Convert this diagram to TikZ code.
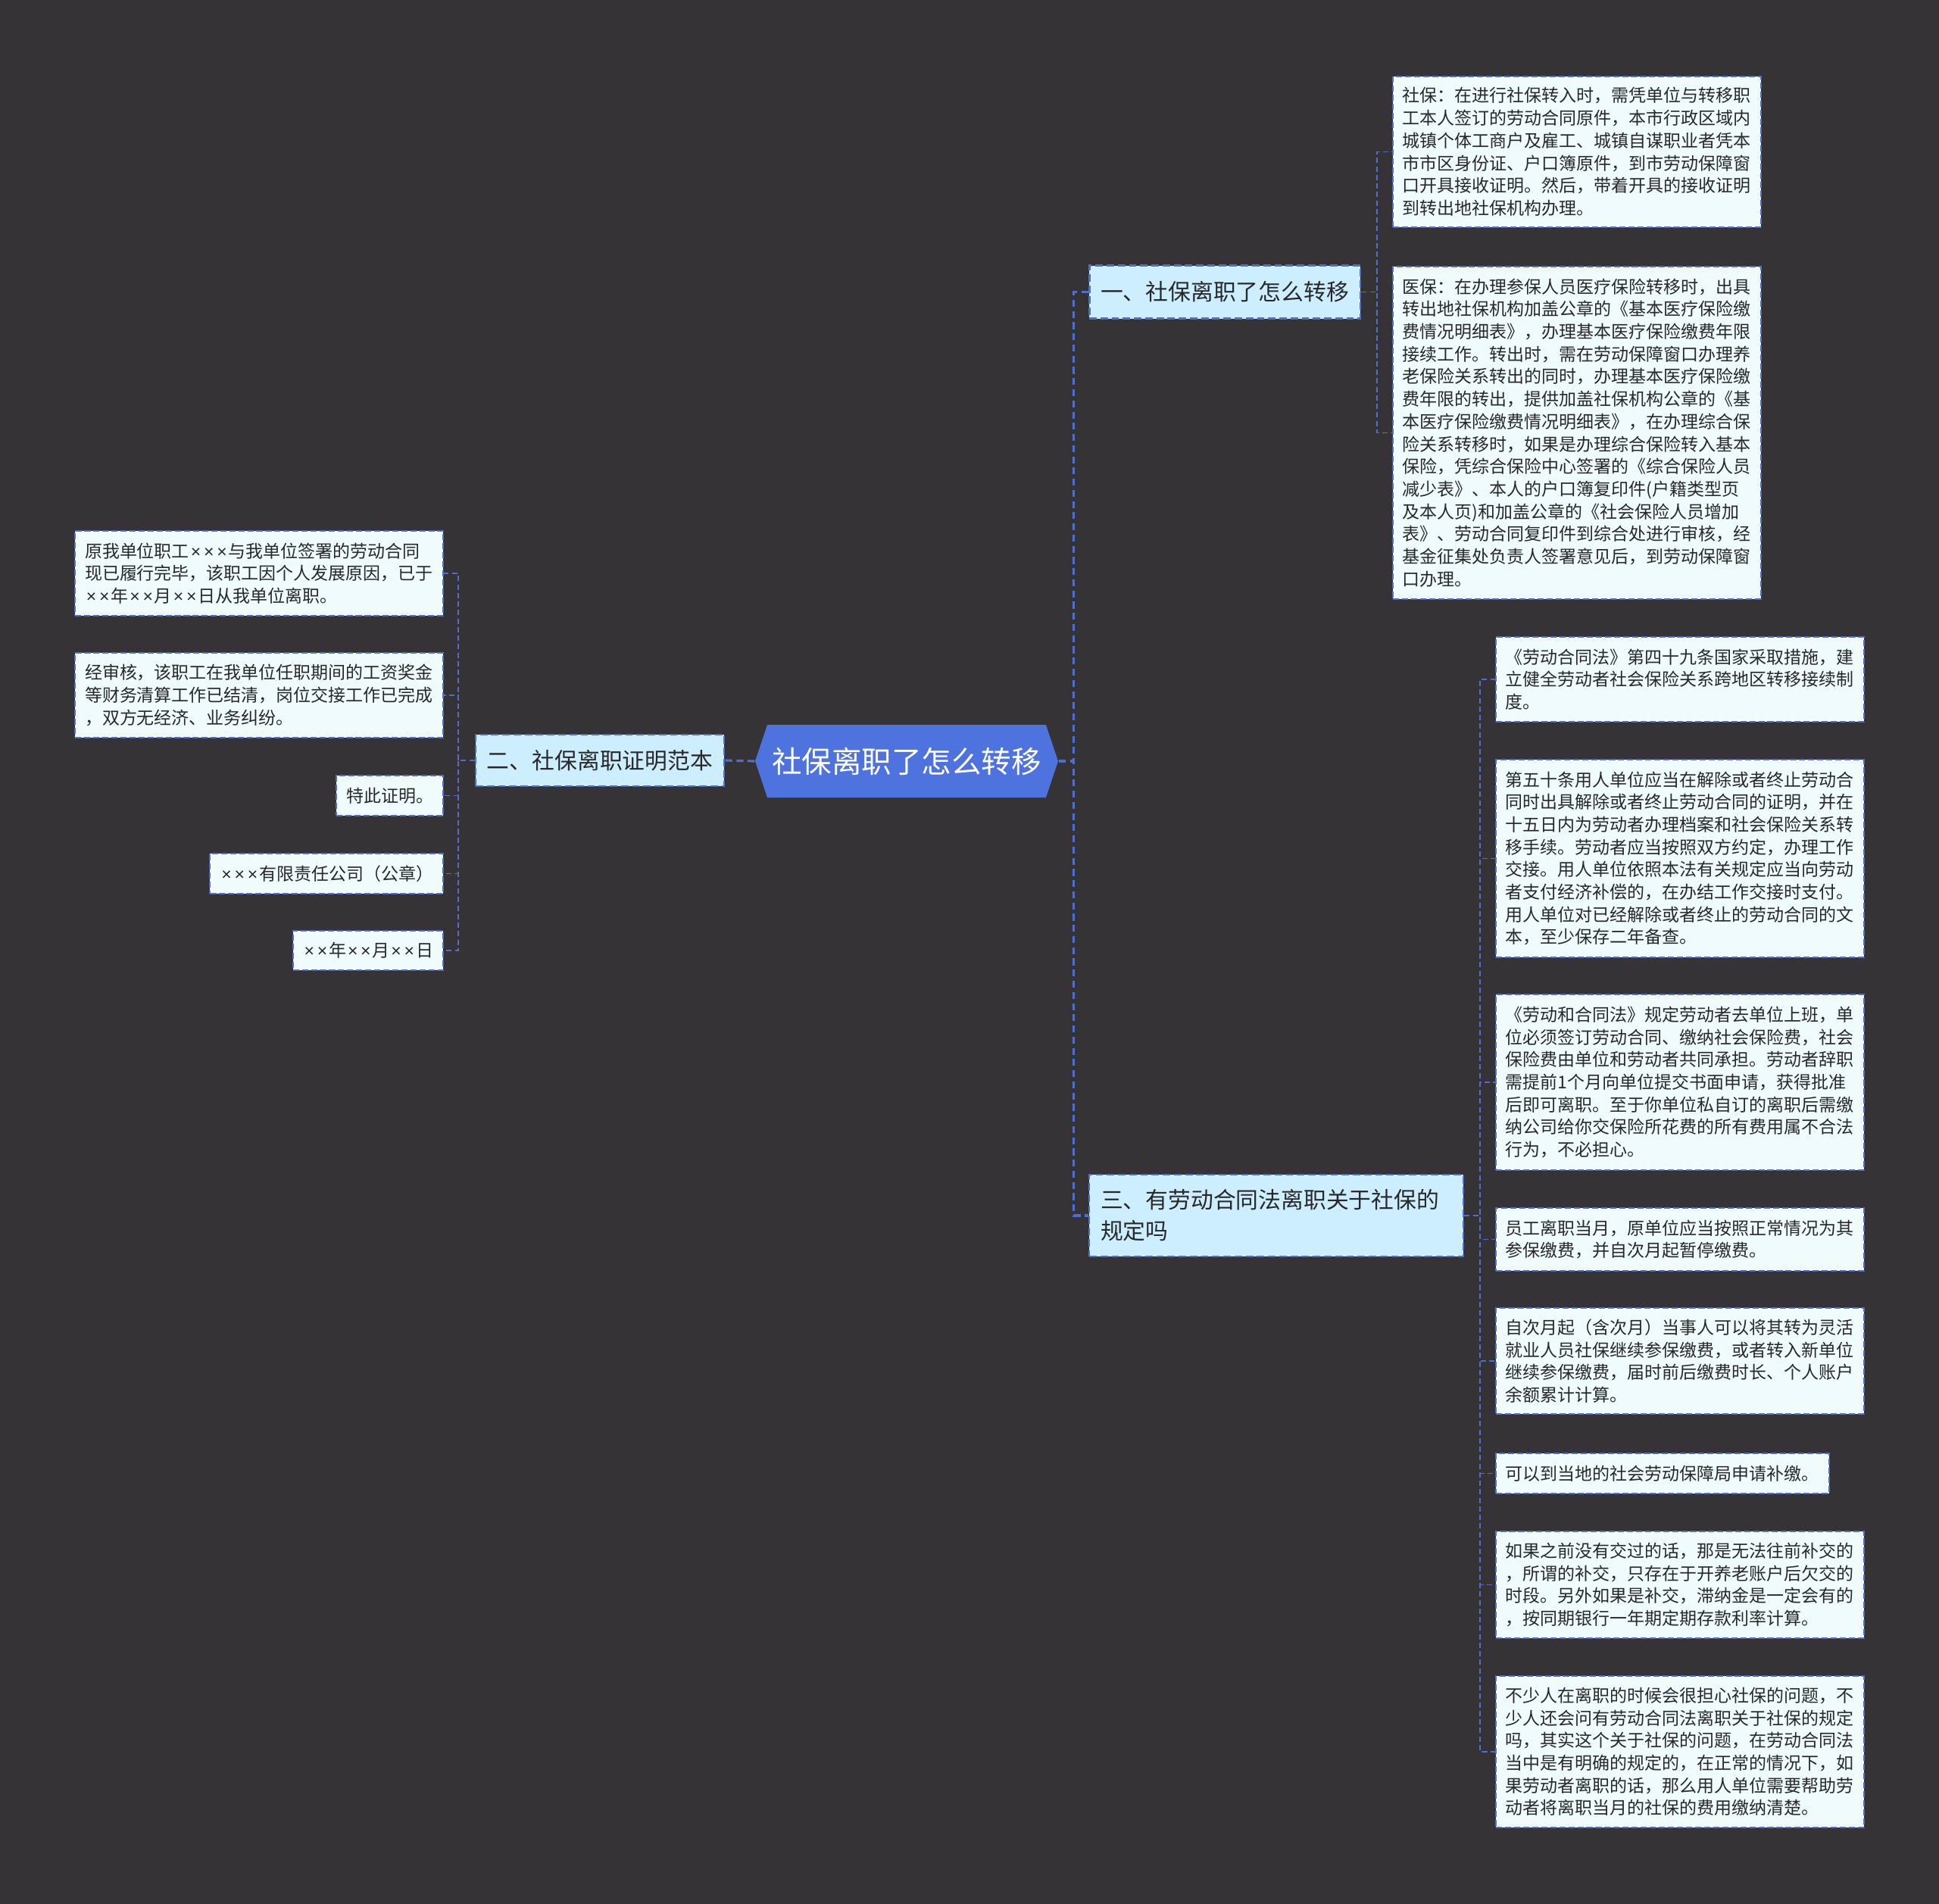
\documentclass[tikz,border=0pt]{standalone}
\usepackage{fontspec}
\setmainfont{Noto Sans CJK SC}
\newfontfamily\latinfont{Liberation Sans}
\definecolor{bgdark}{RGB}{53,51,53}
\definecolor{linkblue}{RGB}{80,110,205}
\definecolor{rootblue}{RGB}{79,115,222}
\definecolor{branchfill}{RGB}{204,238,255}
\definecolor{leaffill}{RGB}{240,251,253}
\definecolor{inkgray}{RGB}{40,40,40}
\usetikzlibrary{positioning,shapes.symbols}
\newcommand\timesmark{\makebox[0.75em]{\latinfont ×}}

\begin{document}
\begin{tikzpicture}[
  rootnode/.style={shape=signal, signal to=west and east, signal pointer angle=143, fill=rootblue, text=white, inner sep=0pt, minimum width=4.0cm, minimum height=0.96cm, font=\fontsize{11.24pt}{13pt}\selectfont},
  branch/.style={draw=linkblue, fill=branchfill, line width=0.8pt, dash pattern=on 2.8pt off 1.4pt, inner xsep=0.15cm, inner ysep=0pt, align=left, text=inkgray, font=\fontsize{8.48pt}{11.67pt}\selectfont},
  leafbase/.style={draw=linkblue, fill=leaffill, line width=0.55pt, dash pattern=on 2.3pt off 1.1pt, inner xsep=0.13cm, inner ysep=0pt, align=left, anchor=north west, text=inkgray, font=\fontsize{6.54pt}{8.45pt}\selectfont},
  leaf/.style={leafbase, text width=4.6cm},
  trunk/.style={draw=linkblue, line width=0.9pt, dash pattern=on 2.6pt off 1.6pt},
  twig/.style={draw=linkblue, line width=0.55pt, dash pattern=on 2pt off 1.2pt}
]
  %% canvas
  \fill[bgdark] (0,0) rectangle (25.6,-25.14);
  \useasboundingbox (0,0) rectangle (25.6,-25.14);

  %% root
  \node[rootnode] (root) at (11.97,-10.05) {社保离职了怎么转移};

  %% branches
  \node[branch, minimum height=0.70cm] (b1) at (16.17,-3.855) {一、社保离职了怎么转移};
  \node[branch, minimum height=0.68cm] (b2) at (7.92,-10.04) {二、社保离职证明范本};
  \node[branch, minimum height=1.08cm, text width=4.64cm] (b3) at (16.85,-16.05) {三、有劳动合同法离职关于社保的\\规定吗};

  %% leaves of b1
  \node[leaf, minimum height=1.99cm] (l1a) at (18.38,-1.00)
    {社保：在进行社保转入时，需凭单位与转移职\\工本人签订的劳动合同原件，本市行政区域内\\城镇个体工商户及雇工、城镇自谋职业者凭本\\市市区身份证、户口簿原件，到市劳动保障窗\\口开具接收证明。然后，带着开具的接收证明\\到转出地社保机构办理。};
  \node[leaf, minimum height=4.39cm] (l1b) at (18.38,-3.51)
    {医保：在办理参保人员医疗保险转移时，出具\\转出地社保机构加盖公章的《基本医疗保险缴\\费情况明细表》，办理基本医疗保险缴费年限\\接续工作。转出时，需在劳动保障窗口办理养\\老保险关系转出的同时，办理基本医疗保险缴\\费年限的转出，提供加盖社保机构公章的《基\\本医疗保险缴费情况明细表》，在办理综合保\\险关系转移时，如果是办理综合保险转入基本\\保险，凭综合保险中心签署的《综合保险人员\\减少表》、本人的户口簿复印件(户籍类型页\\及本人页)和加盖公章的《社会保险人员增加\\表》、劳动合同复印件到综合处进行审核，经\\基金征集处负责人签署意见后，到劳动保障窗\\口办理。};

  %% leaves of b2
  \node[leaf, anchor=north east, minimum height=1.12cm] (l2a) at (5.86,-7.00)
    {原我单位职工\timesmark\timesmark\timesmark 与我单位签署的劳动合同\\现已履行完毕，该职工因个人发展原因，已于\\\timesmark\timesmark 年\timesmark\timesmark 月\timesmark\timesmark 日从我单位离职。};
  \node[leaf, anchor=north east, minimum height=1.12cm] (l2b) at (5.86,-8.61)
    {经审核，该职工在我单位任职期间的工资奖金\\等财务清算工作已结清，岗位交接工作已完成\\，双方无经济、业务纠纷。};
  \node[leafbase, anchor=north east, minimum height=0.53cm] (l2c) at (5.86,-10.23) {特此证明。};
  \node[leafbase, anchor=north east, minimum height=0.53cm] (l2d) at (5.86,-11.26) {\timesmark\timesmark\timesmark 有限责任公司（公章）};
  \node[leafbase, anchor=north east, minimum height=0.52cm] (l2e) at (5.86,-12.28) {\timesmark\timesmark 年\timesmark\timesmark 月\timesmark\timesmark 日};

  %% leaves of b3
  \node[leaf, minimum height=1.12cm] (l3a) at (19.74,-8.40)
    {《劳动合同法》第四十九条国家采取措施，建\\立健全劳动者社会保险关系跨地区转移接续制\\度。};
  \node[leaf, minimum height=2.61cm] (l3b) at (19.74,-10.02)
    {第五十条用人单位应当在解除或者终止劳动合\\同时出具解除或者终止劳动合同的证明，并在\\十五日内为劳动者办理档案和社会保险关系转\\移手续。劳动者应当按照双方约定，办理工作\\交接。用人单位依照本法有关规定应当向劳动\\者支付经济补偿的，在办结工作交接时支付。\\用人单位对已经解除或者终止的劳动合同的文\\本，至少保存二年备查。};
  \node[leaf, minimum height=2.32cm] (l3c) at (19.74,-13.12)
    {《劳动和合同法》规定劳动者去单位上班，单\\位必须签订劳动合同、缴纳社会保险费，社会\\保险费由单位和劳动者共同承担。劳动者辞职\\需提前1个月向单位提交书面申请，获得批准\\后即可离职。至于你单位私自订的离职后需缴\\纳公司给你交保险所花费的所有费用属不合法\\行为，不必担心。};
  \node[leaf, minimum height=0.83cm] (l3d) at (19.74,-15.94)
    {员工离职当月，原单位应当按照正常情况为其\\参保缴费，并自次月起暂停缴费。};
  \node[leaf, minimum height=1.40cm] (l3e) at (19.74,-17.26)
    {自次月起（含次月）当事人可以将其转为灵活\\就业人员社保继续参保缴费，或者转入新单位\\继续参保缴费，届时前后缴费时长、个人账户\\余额累计计算。};
  \node[leafbase, minimum height=0.53cm] (l3f) at (19.74,-19.18) {可以到当地的社会劳动保障局申请补缴。};
  \node[leaf, minimum height=1.41cm] (l3g) at (19.74,-20.21)
    {如果之前没有交过的话，那是无法往前补交的\\，所谓的补交，只存在于开养老账户后欠交的\\时段。另外如果是补交，滞纳金是一定会有的\\，按同期银行一年期定期存款利率计算。};
  \node[leaf, minimum height=2.00cm] (l3h) at (19.74,-22.12)
    {不少人在离职的时候会很担心社保的问题，不\\少人还会问有劳动合同法离职关于社保的规定\\吗，其实这个关于社保的问题，在劳动合同法\\当中是有明确的规定的，在正常的情况下，如\\果劳动者离职的话，那么用人单位需要帮助劳\\动者将离职当月的社保的费用缴纳清楚。};

  %% spine points
  \coordinate[right=0.20cm of root.east] (s0);
  \coordinate[right=0.21cm of b1.east] (s1);
  \coordinate[left=0.22cm of b2.west] (s2);
  \coordinate[right=0.21cm of b3.east] (s3);

  %% root links
  \draw[trunk] (root.east) -- (s0) |- (b1.west);
  \draw[trunk] (root.east) -- (s0) |- (b3.west);
  \draw[trunk] (root.west) -- (b2.east);

  %% b1 links
  \draw[twig] (b1.east) -- (s1) |- (l1a.west);
  \draw[twig] (b1.east) -- (s1) |- (l1b.west);

  %% b2 links
  \draw[twig] (b2.west) -- (s2) |- (l2a.east);
  \draw[twig] (b2.west) -- (s2) |- (l2b.east);
  \draw[twig] (b2.west) -- (s2) |- (l2c.east);
  \draw[twig] (b2.west) -- (s2) |- (l2d.east);
  \draw[twig] (b2.west) -- (s2) |- (l2e.east);

  %% b3 links
  \draw[twig] (b3.east) -- (s3) |- (l3a.west);
  \draw[twig] (b3.east) -- (s3) |- (l3b.west);
  \draw[twig] (b3.east) -- (s3) |- (l3c.west);
  \draw[twig] (b3.east) -- (s3) |- (l3d.west);
  \draw[twig] (b3.east) -- (s3) |- (l3e.west);
  \draw[twig] (b3.east) -- (s3) |- (l3f.west);
  \draw[twig] (b3.east) -- (s3) |- (l3g.west);
  \draw[twig] (b3.east) -- (s3) |- (l3h.west);
\end{tikzpicture}
\end{document}
